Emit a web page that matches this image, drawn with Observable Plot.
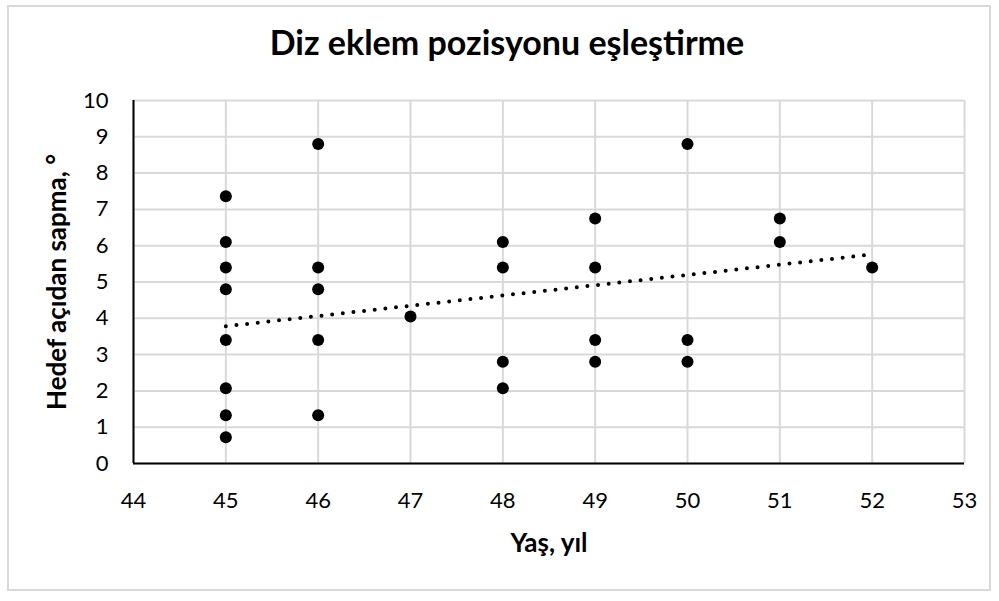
<!DOCTYPE html>
<html><head><meta charset="utf-8">
<script src="https://cdn.jsdelivr.net/npm/d3@7"></script>
<script src="https://cdn.jsdelivr.net/npm/@observablehq/plot@0.6"></script>
<style>
body{margin:0;background:#fff;}
#wrap{position:relative;width:999px;height:601px;overflow:hidden;font-family:Lato,sans-serif;background:#fff;}
#frame{position:absolute;left:7px;top:5px;width:984px;height:586px;border:2px solid #d9d9d9;box-sizing:border-box;}
#title{position:absolute;left:0;width:1014px;top:21px;text-align:center;font-weight:bold;font-size:34px;color:#000;}
#chart{position:absolute;left:0;top:0;}
</style></head><body>
<div id="wrap"><div id="frame"></div><div id="chart"></div><div id="title">Diz eklem pozisyonu eşleştirme</div></div>
<script>
const titleText = "Diz eklem pozisyonu eşleştirme";
const xLabel = "Yaş, yıl";
const yLabel = "Hedef açıdan sapma, °";
const xTicks = [44, 45, 46, 47, 48, 49, 50, 51, 52, 53];
const yTicks = [0, 1, 2, 3, 4, 5, 6, 7, 8, 9, 10];
const ages = [45,45,45,45,45,45,45,45, 46,46,46,46,46, 47, 48,48,48,48, 49,49,49,49, 50,50,50, 51,51, 52];
const deviations = [7.36,6.1,5.4,4.8,3.4,2.07,1.33,0.72, 8.8,5.4,4.8,3.4,1.33, 4.05, 6.1,5.4,2.8,2.07, 6.75,5.4,3.4,2.8, 8.8,3.4,2.8, 6.75,6.1, 5.4];
const trendAges = [45, 52];
const trendValues = [3.78, 5.76];

const points = ages.map((a, i) => ({age: a, dev: deviations[i]}));
const trend = trendAges.map((a, i) => ({age: a, dev: trendValues[i]}));

const chart = Plot.plot({
  width: 999, height: 601,
  marginLeft: 133, marginRight: 35, marginTop: 100, marginBottom: 138,
  style: {fontFamily: "Lato, sans-serif", fontSize: "22px", color: "#000", background: "transparent"},
  x: {domain: [44, 53], ticks: xTicks},
  y: {domain: [0, 10], ticks: yTicks},
  marks: [
    Plot.gridX(xTicks, {stroke: "#d9d9d9", strokeOpacity: 1, strokeWidth: 2}),
    Plot.gridY(yTicks, {stroke: "#d9d9d9", strokeOpacity: 1, strokeWidth: 2}),
    Plot.ruleX([44], {stroke: "#000", strokeWidth: 2}),
    Plot.ruleY([0], {stroke: "#000", strokeWidth: 2}),
    Plot.axisX(xTicks, {tickSize: 0, tickPadding: 29, label: null}),
    Plot.axisY(yTicks, {tickSize: 0, tickPadding: 25, label: null}),
    Plot.line(trend, {x: "age", y: "dev", stroke: "#000", strokeWidth: 4, strokeDasharray: "0 10.7", strokeLinecap: "round"}),
    Plot.dot(points, {x: "age", y: "dev", r: 6, fill: "#000", stroke: "none"}),
    Plot.text([xLabel], {frameAnchor: "bottom", dy: 80, lineAnchor: "middle", textAnchor: "middle", text: d => d, fontWeight: "bold", fontSize: 26}),
    Plot.text([yLabel], {frameAnchor: "left", dx: -76, rotate: -90, lineAnchor: "middle", textAnchor: "middle", text: d => d, fontWeight: "bold", fontSize: 26})
  ]
});
document.getElementById("chart").appendChild(chart);
</script>
</body></html>
